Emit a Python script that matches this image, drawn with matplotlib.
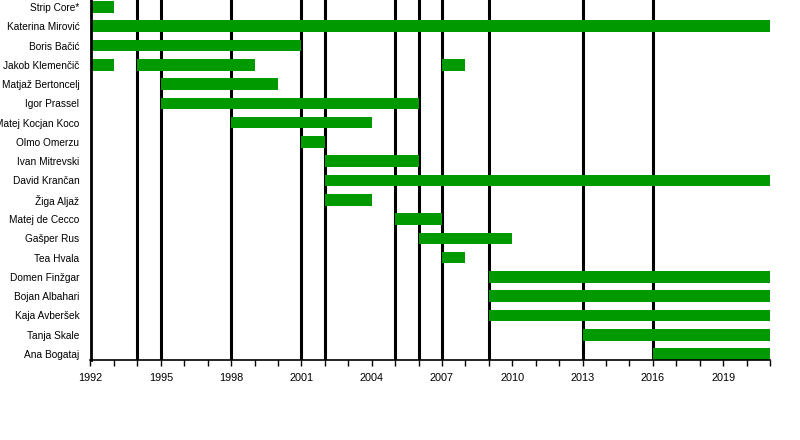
import matplotlib
matplotlib.use('Agg')
import matplotlib.pyplot as plt
from matplotlib.ticker import MultipleLocator

plt.rcParams['font.family'] = ['Liberation Sans', 'DejaVu Sans']

members = ['Strip Core*', 'Katerina Mirović', 'Boris Bačić', 'Jakob Klemenčič',
           'Matjaž Bertoncelj', 'Igor Prassel', 'Matej Kocjan Koco', 'Olmo Omerzu',
           'Ivan Mitrevski', 'David Krančan', 'Žiga Aljaž', 'Matej de Cecco',
           'Gašper Rus', 'Tea Hvala', 'Domen Finžgar', 'Bojan Albahari',
           'Kaja Avberšek', 'Tanja Skale', 'Ana Bogataj']

# (start, end) periods per member
periods = [
    [(1992, 1993)],
    [(1992, 2021)],
    [(1992, 2001)],
    [(1992, 1993), (1994, 1999), (2007, 2008)],
    [(1995, 2000)],
    [(1995, 2006)],
    [(1998, 2004)],
    [(2001, 2002)],
    [(2002, 2006)],
    [(2002, 2021)],
    [(2002, 2004)],
    [(2005, 2007)],
    [(2006, 2010)],
    [(2007, 2008)],
    [(2009, 2021)],
    [(2009, 2021)],
    [(2009, 2021)],
    [(2013, 2021)],
    [(2016, 2021)],
]

release_years = [1994, 1995, 1998, 2001, 2002, 2005, 2006, 2007, 2009, 2013, 2016]

fig = plt.figure(figsize=(8, 4.4), dpi=100)
ax = fig.add_axes([90.5 / 800, 80 / 440, 679.5 / 800, 360 / 440])

for yr in release_years:
    ax.axvline(yr, color='black', lw=2.2, zorder=1)

for i, spans in enumerate(periods):
    ax.broken_barh([(s, e - s) for s, e in spans], (i - 0.3, 0.6),
                   facecolors='#009900', zorder=2)

ax.set_xlim(1992, 2021)
ax.set_ylim(len(members) - 1 + 0.31, -0.36)
ax.set_yticks(range(len(members)))
ax.set_yticklabels(members, fontsize=7.3)
ax.tick_params(axis='y', length=0, pad=8)

ax.xaxis.set_major_locator(MultipleLocator(3))
ax.xaxis.set_minor_locator(MultipleLocator(1))
ax.tick_params(axis='x', which='both', direction='out', length=4, width=1, labelsize=7.8, pad=5)

for side in ['top', 'right']:
    ax.spines[side].set_visible(False)
ax.spines['left'].set_linewidth(2)
ax.spines['bottom'].set_linewidth(1.2)

plt.savefig('out.png', dpi=100)
